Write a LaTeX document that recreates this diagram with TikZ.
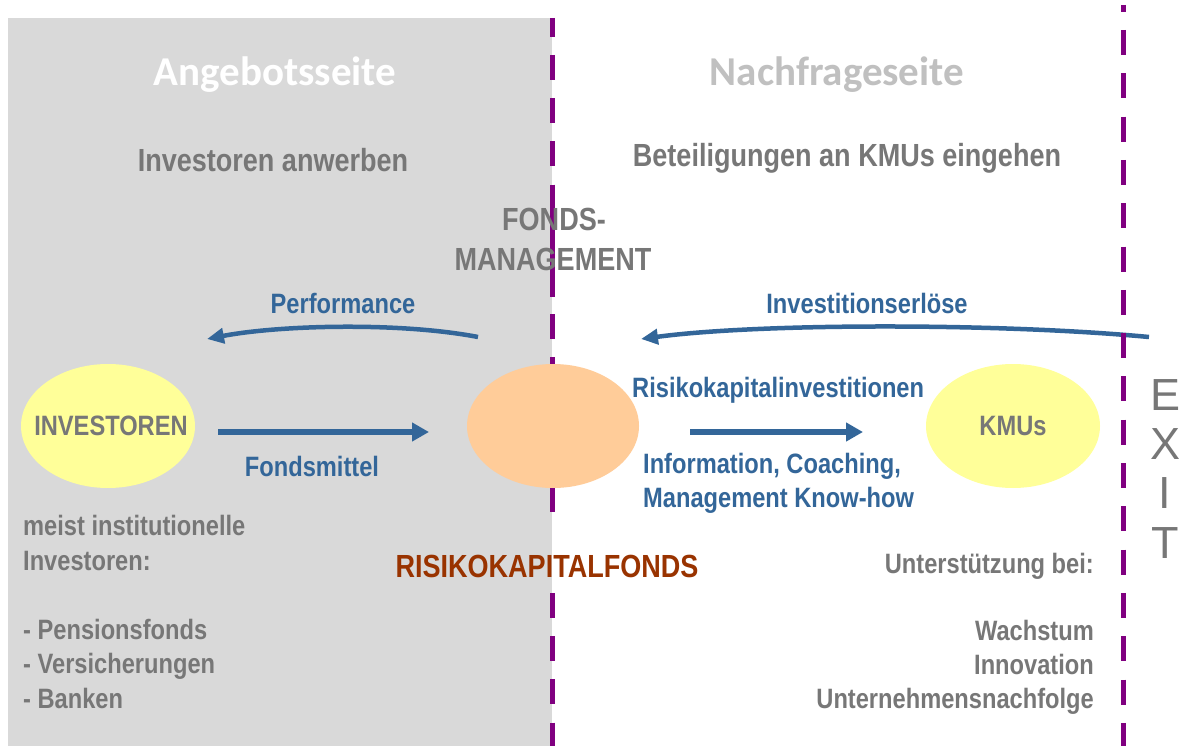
\documentclass[tikz,border=0pt]{standalone}
\usepackage{fontspec}
\setmainfont{Liberation Sans}
\newfontfamily\nar[FakeStretch=0.845]{Liberation Sans}
\newfontfamily\calib{Carlito}
\usetikzlibrary{shapes.geometric,arrows.meta}
\definecolor{txtgray}{HTML}{777777}
\definecolor{lightgraytxt}{HTML}{C0C0C0}
\definecolor{panelgray}{HTML}{D9D9D9}
\definecolor{arrowblue}{HTML}{336699}
\definecolor{lineviolet}{HTML}{800080}
\definecolor{fondsorange}{HTML}{FFCC99}
\definecolor{paleyellow}{HTML}{FFFF99}
\definecolor{darkred}{HTML}{993300}
\tikzset{
  lab/.style={font=\nar\bfseries\fontsize{28}{34}\selectfont, inner sep=0pt, text=txtgray},
  blab/.style={lab, text=arrowblue},
  headtxt/.style={font=\nar\bfseries\fontsize{32}{38}\selectfont, inner sep=0pt, text=txtgray},
  titletxt/.style={font=\calib\bfseries\fontsize{41}{48}\selectfont, inner sep=0pt},
  exitletter/.style={font=\fontsize{45}{50}\selectfont, inner sep=0pt, text=txtgray, anchor=base},
  oval/.style={ellipse, draw=none, minimum width=174pt, minimum height=124pt, inner sep=0pt},
  divider/.style={draw=lineviolet, line width=5pt},
  flow/.style={draw=arrowblue, line width=6pt, -{Triangle[length=17pt,width=18pt]}},
  bentflow/.style={draw=arrowblue, line width=4.5pt, -{Triangle[length=17pt,width=15pt]}}
}
\begin{document}
\begin{tikzpicture}[x=1pt,y=-1pt]
\useasboundingbox (0,0) rectangle (1180,746);
\fill[white] (0,0) rectangle (1180,746);
% supply-side panel
\fill[panelgray] (8,18) rectangle (552,746);

% curved return arrows
\coordinate (perfS) at (478,337);
\coordinate (perfE) at (207,339);
\coordinate (erlS) at (1149,337);
\coordinate (erlE) at (641,339);
\draw[bentflow] (perfS) .. controls (400,322) and (280,325) .. (perfE);
\draw[bentflow] (erlS) .. controls (1000,323) and (760,323) .. (erlE);

% dividers
\coordinate (lt1) at (552,18);
\coordinate (lb1) at (552,513);
\coordinate (lt2) at (552,593);
\coordinate (lb2) at (552,746);
\coordinate (ls1) at (552,185);
\coordinate (ls2) at (552,297);
\coordinate (rt) at (1123,5);
\coordinate (rb) at (1123,746);
\draw[divider, dash pattern=on 25pt off 18.2pt, dash phase=6.2pt] (lt1) -- (lb1);
\draw[divider] (ls1) -- (ls2);
\draw[divider, dash pattern=on 25pt off 18.2pt] (lt2) -- (lb2);
\draw[divider, dash pattern=on 25pt off 18.3pt, dash phase=18.3pt] (rt) -- (rb);

% ellipses
\node[oval, fill=paleyellow, label={[lab, xshift=3pt]center:INVESTOREN}] (inv) at (108,426) {};
\node[oval, fill=fondsorange, minimum width=172pt] (fonds) at (553,426) {};
\node[oval, fill=paleyellow, label={[lab]center:KMUs}] (kmu) at (1013,426) {};

% straight arrows
\coordinate (fmS) at (218,432);
\coordinate (fmE) at (429,432);
\coordinate (rkS) at (690,432);
\coordinate (rkE) at (863,432);
\draw[flow] (fmS) -- (fmE);
\draw[flow] (rkS) -- (rkE);

% titles
\node[titletxt, text=white, anchor=base] (angebot) at (275,86) {Angebotsseite};
\node[titletxt, text=lightgraytxt, anchor=base] (nachfrage) at (837,86) {Nachfrageseite};
\node[headtxt, anchor=base] (anwerben) at (273,172) {Investoren anwerben};
\node[headtxt, anchor=base] (beteil) at (847,167) {Beteiligungen an KMUs eingehen};
\node[headtxt, anchor=base] (fm1) at (554,230) {FONDS-};
\node[headtxt, anchor=base] (fm2) at (553,270) {MANAGEMENT};
\node[headtxt, anchor=base, text=darkred] (rkf) at (547,577) {RISIKOKAPITALFONDS};

% arrow labels
\node[blab, anchor=base] (perf) at (343,313) {Performance};
\node[blab, anchor=base] (erl) at (867,313) {Investitionserlöse};
\node[blab, anchor=base] (fmit) at (312,476) {Fondsmittel};
\node[blab, anchor=base west] (rki) at (632,397) {Risikokapitalinvestitionen};
\node[blab, anchor=base west] (info1) at (643,473) {Information, Coaching,};
\node[blab, anchor=base west] (info2) at (643,507) {Management Know-how};

% left list
\node[lab, anchor=base west] (l1) at (23,535) {meist institutionelle};
\node[lab, anchor=base west] (l2) at (23,570) {Investoren:};
\node[lab, anchor=base west] (l3) at (23,639) {- Pensionsfonds};
\node[lab, anchor=base west] (l4) at (23,673) {- Versicherungen};
\node[lab, anchor=base west] (l5) at (23,708) {- Banken};

% right list
\node[lab, anchor=base east] (r1) at (1094,573) {Unterstützung bei:};
\node[lab, anchor=base east] (r2) at (1094,640) {Wachstum};
\node[lab, anchor=base east] (r3) at (1094,674) {Innovation};
\node[lab, anchor=base east] (r4) at (1094,708) {Unternehmensnachfolge};

% EXIT
\node[exitletter] (ex1) at (1165,410) {E};
\node[exitletter] (ex2) at (1165,459) {X};
\node[exitletter] (ex3) at (1165,508) {I};
\node[exitletter] (ex4) at (1165,558) {T};
\end{tikzpicture}
\end{document}
